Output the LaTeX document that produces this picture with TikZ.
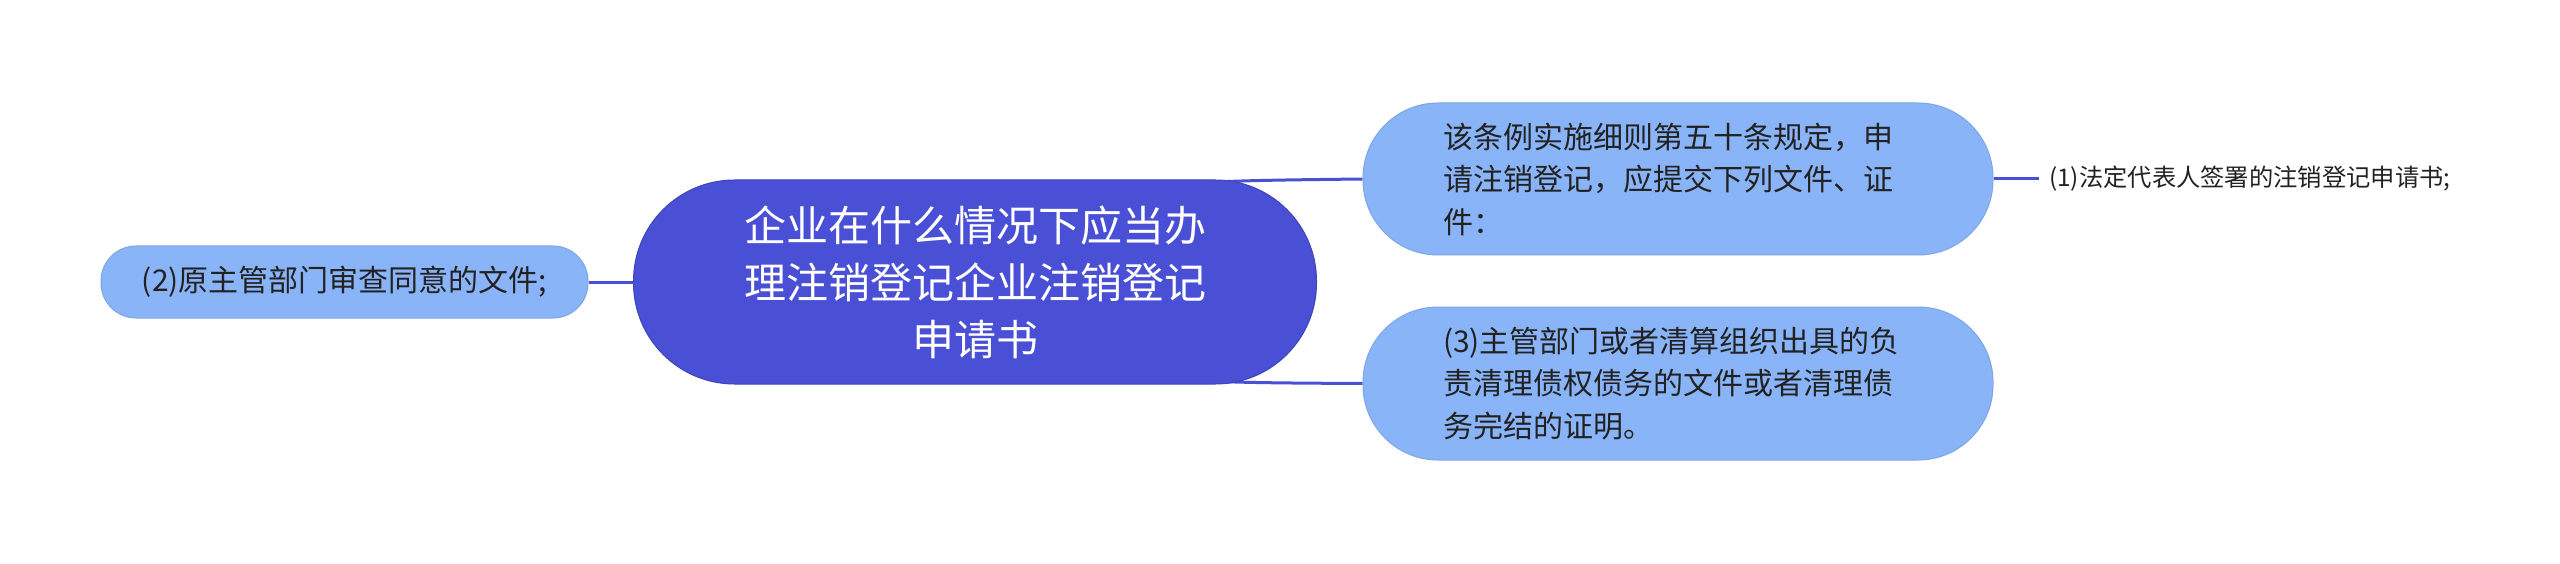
\documentclass[tikz,border=0pt]{standalone}
\usepackage{fontspec}
\setmainfont{Noto Sans CJK SC}
\usetikzlibrary{backgrounds}
\definecolor{cmain}{HTML}{4A50D6}
\definecolor{cchild}{HTML}{8AB4F8}
\definecolor{cline}{HTML}{4A50D6}
\definecolor{ctext}{HTML}{222222}
\begin{document}
\begin{tikzpicture}[x=1pt,y=-1pt,
  central/.style={draw=cmain!85!black, line width=1pt, fill=cmain, rounded corners=101pt,
    minimum width=683pt, minimum height=204pt, text=white,
    font=\fontsize{42}{57}\selectfont, align=center, inner sep=0pt},
  child/.style={draw=cchild!92!black, line width=1pt, fill=cchild, text=ctext,
    font=\fontsize{30}{42.5}\selectfont, align=left, inner sep=0pt},
  leaf/.style={text=ctext, font=\fontsize{24.3}{30}\selectfont, inner sep=0pt, inner xsep=10pt, anchor=west},
  conn/.style={draw=cline, line width=3pt}]
\useasboundingbox (0,0) rectangle (2560,564);
\node[central] (c) at (975,282) {企业在什么情况下应当办\\理注销登记企业注销登记\\申请书};
\node[child, minimum width=487pt, minimum height=72pt, rounded corners=35pt] (l) at (344.5,282) {(2)原主管部门审查同意的文件;};
\node[child, minimum width=630pt, minimum height=152pt, rounded corners=75pt, text width=470pt] (tr) at (1678,179) {该条例实施细则第五十条规定，申\\请注销登记，应提交下列文件、证\\件：};
\node[child, minimum width=630pt, minimum height=153pt, rounded corners=75pt, text width=470pt] (br) at (1678,383.5) {(3)主管部门或者清算组织出具的负\\责清理债权债务的文件或者清理债\\务完结的证明。};
\node[leaf] (lf) at (2039,179) {(1)法定代表人签署的注销登记申请书;};
\begin{scope}[on background layer]
\fill[white] (0,0) rectangle (2560,564);
\draw[conn] (l.east) -- (c.center);
\draw[conn] (c.center) .. controls (1100,182) .. (tr.west);
\draw[conn] (c.center) .. controls (1100,382) .. (br.west);
\draw[conn] (tr.east) -- (lf.west);
\end{scope}
\end{tikzpicture}
\end{document}
